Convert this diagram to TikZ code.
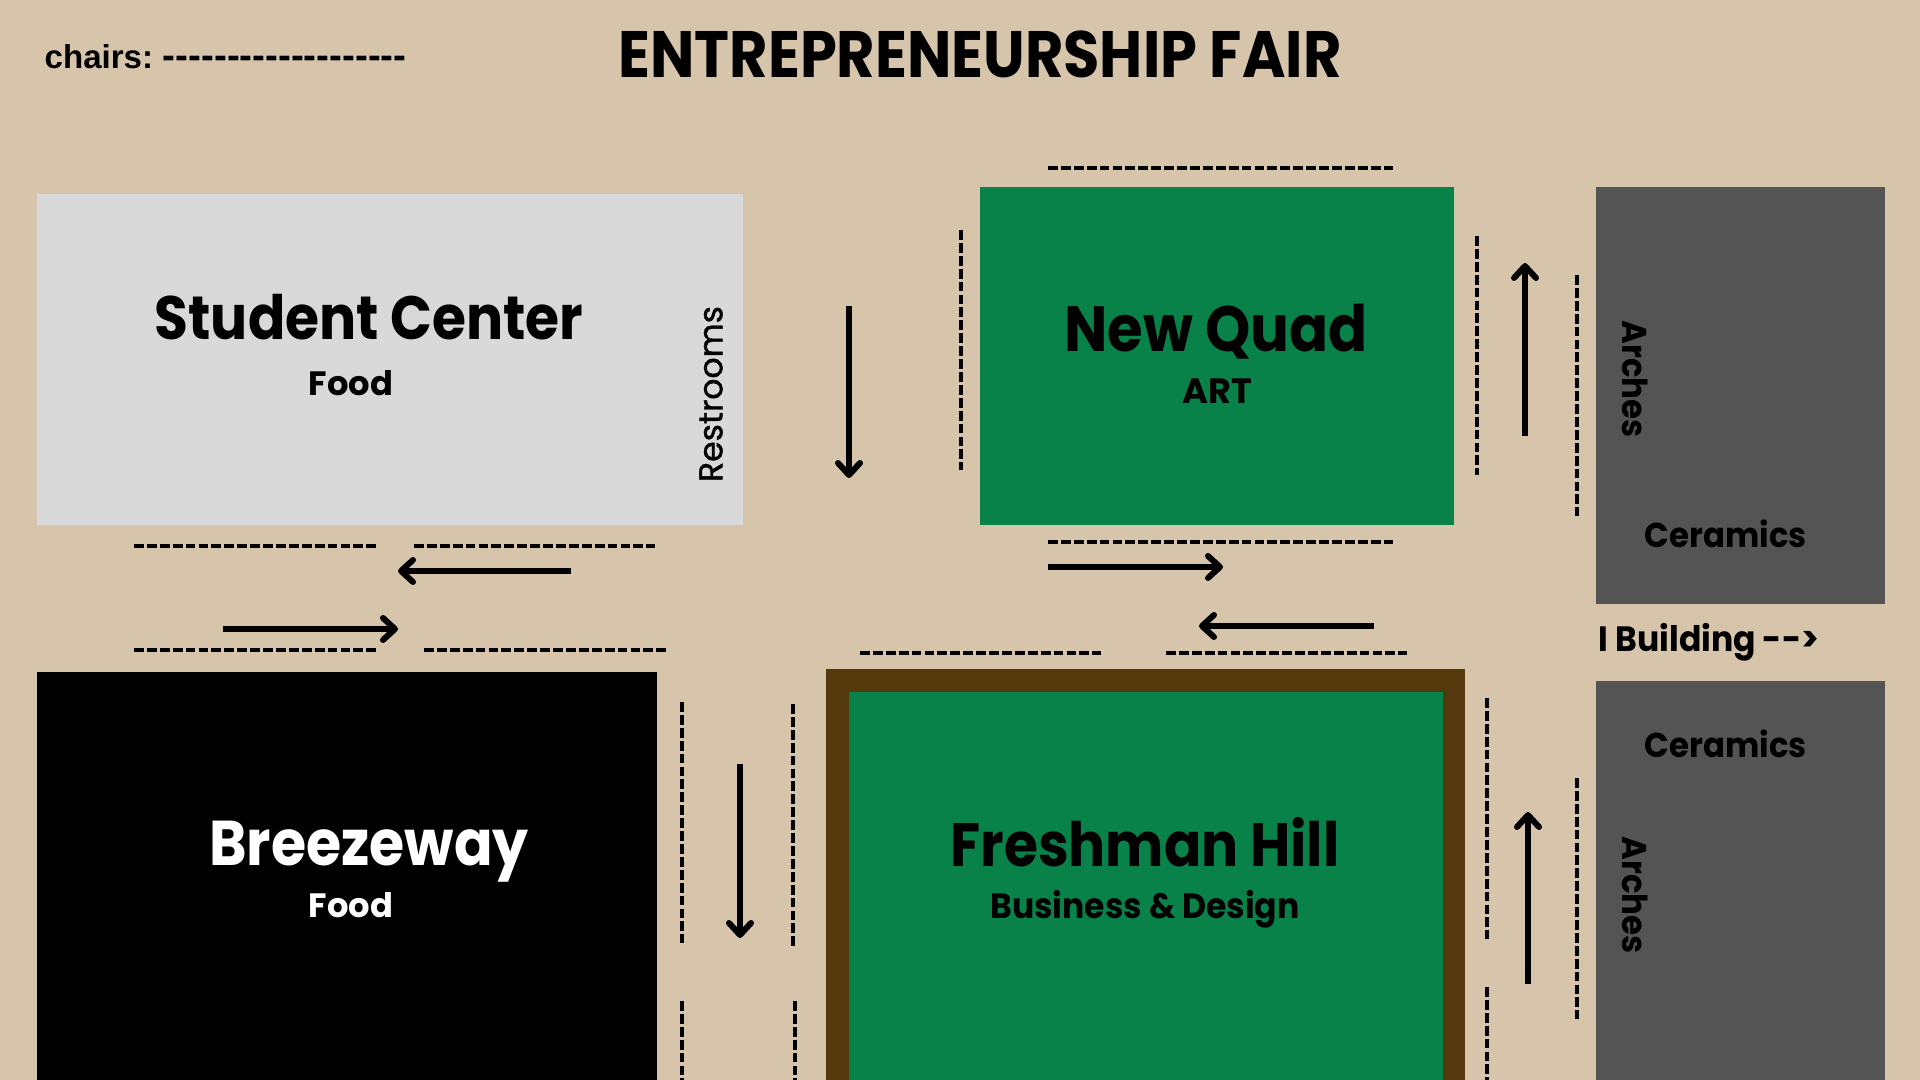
\documentclass[tikz,border=0pt]{standalone}
\usepackage{fontspec}
\usepackage{tikz}
\usetikzlibrary{arrows.meta}
\definecolor{fairsand}{RGB}{214,197,171}
\definecolor{fairgrey}{RGB}{217,217,217}
\definecolor{fairgreen}{RGB}{8,130,72}
\definecolor{fairbrown}{RGB}{83,57,11}
\definecolor{fairslate}{RGB}{84,84,84}
\newfontfamily\fairfont{Poppins}
\newfontfamily\hallfont[FakeStretch=0.9]{Poppins}
\newfontfamily\wingfont[FakeStretch=0.94]{Poppins}
\newfontfamily\restfont[FakeBold=1.2]{Poppins}
\newfontfamily\chairfont{Liberation Sans}
\newcommand{\fairsize}[1]{\fontsize{#1}{#1}\selectfont}
\tikzset{
  hall/.style={font=\hallfont\bfseries\fairsize{#1}, inner sep=0pt},
  subhall/.style={font=\fairfont\bfseries\fairsize{9.6}, inner sep=0pt},
  wing/.style={font=\wingfont\bfseries\fairsize{9.8}, inner sep=0pt},
  chairline/.style={line width=0.047cm, dash pattern=on 0.098cm off 0.031cm},
  walkline/.style={line width=0.06cm, -{Straight Barb[round,length=0.12cm,width=0.22cm]}},
}

\begin{document}
\begin{tikzpicture}[x=0.01cm, y=-0.01cm]
  \useasboundingbox (0,0) rectangle (1920,1080);
  \fill[fairsand] (0,0) rectangle (1920,1080);
  % buildings
  \fill[fairgrey] (37,194) rectangle (743,525);
  \fill[fairgreen] (980,187) rectangle (1454,525);
  \fill[fairslate] (1596,187) rectangle (1885,604);
  \fill[black] (37,672) rectangle (657,1080);
  \fill[fairbrown] (826,669) rectangle (1465,1080);
  \fill[fairgreen] (849,692) rectangle (1443,1080);
  \fill[fairslate] (1596,681) rectangle (1885,1080);
  % chair rows
  \foreach \xa/\xb/\ya in {134/376/546, 414/655/546, 134/376/650, 424/666/650,
      1048/1393/168, 1048/1393/542, 860/1101/653, 1166/1407/653}
    \draw[chairline] (\xa,\ya) -- (\xb,\ya);
  \foreach \xa/\ya/\yb in {961/230/470, 1477/236/475, 1577/275/516, 682/702/943,
      793/704/946, 682/1001/1080, 795/1001/1080, 1487/698/939, 1487/987/1080, 1577/778/1019}
    \draw[chairline] (\xa,\ya) -- (\xa,\yb);
  % walking direction
  \foreach \xa/\ya/\xb/\yb in {571/571/398/571, 223/629/398/629, 1048/567/1223/567,
      1374/626/1199/626, 849/306/849/478, 1525/436/1525/263, 740/764/740/938, 1528/984/1528/812}
    \draw[walkline] (\xa,\ya) -- (\xb,\yb);
  % labels
  \node[font=\chairfont\bfseries\fairsize{9.4}, inner sep=0pt, anchor=west] (chairs) at (44,57) {chairs:\hspace{-0.7pt} {\fairsize{10.95}-------------------}};
  \node[hall=18.65] (title) at (980,54) {ENTREPRENEURSHIP FAIR};
  \node[hall=17.4] (studentcenter) at (369,317) {Student Center};
  \node[subhall] (studentfood) at (351,383) {Food};
  \node[font=\restfont\fairsize{9.4}, inner sep=0pt, rotate=90] (restrooms) at (711,394) {Restrooms};
  \node[hall=18.2] (newquad) at (1216,332) {New Quad};
  \node[subhall, font=\fairfont\bfseries\fairsize{10}] (art) at (1217,391) {ART};
  \node[hall=18, text=white] (breezeway) at (369,852) {Breezeway};
  \node[subhall, text=white] (breezefood) at (351,905) {Food};
  \node[hall=17.4] (freshmanhill) at (1145,842) {Freshman Hill};
  \node[subhall, font=\wingfont\bfseries\fairsize{10}] (business) at (1145,909) {Business \& Design};
  \node[wing] (ceramicsa) at (1726,534) {Ceramics};
  \node[wing] (ceramicsb) at (1726,744) {Ceramics};
  \node[wing, rotate=-90] (archesa) at (1635,379) {Arches};
  \node[wing, rotate=-90] (archesb) at (1635,895) {Arches};
  \node[wing, font=\wingfont\bfseries\fairsize{10}, anchor=west] (ibuilding) at (1598,642) {I Building -->};
\end{tikzpicture}
\end{document}
